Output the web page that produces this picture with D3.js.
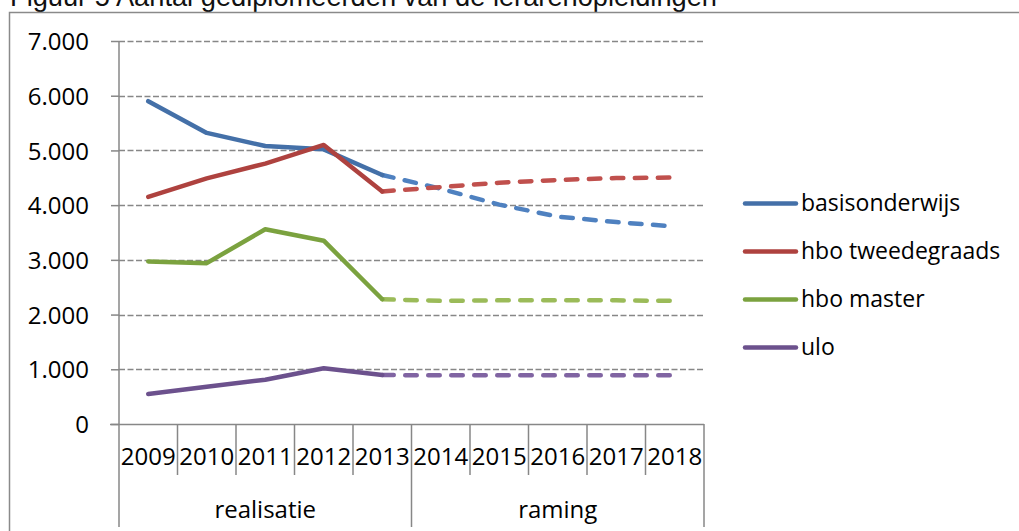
<!DOCTYPE html>
<html><head><meta charset="utf-8">
<script src="https://cdn.jsdelivr.net/npm/d3@7"></script>
<style>
html,body{margin:0;padding:0;background:#fff;}
svg{display:block;}
</style></head>
<body>
<svg id="chart" width="1019" height="531"></svg>
<script>
const title = "Figuur 5 Aantal gediplomeerden van de lerarenopleidingen";
const years = ["2009","2010","2011","2012","2013","2014","2015","2016","2017","2018"];
const periodOfYear = ["realisatie","realisatie","realisatie","realisatie","realisatie","raming","raming","raming","raming","raming"];
const periodLabels = ["realisatie","raming"];
const seriesNames = ["basisonderwijs","hbo tweedegraads","hbo master","ulo"];
const basisonderwijs  = [5900, 5320, 5080, 5020, 4550, 4300, 4010, 3790, 3690, 3610];
const hboTweedegraads = [4150, 4490, 4760, 5100, 4250, 4330, 4410, 4460, 4495, 4505];
const hboMaster       = [2970, 2940, 3560, 3350, 2280, 2250, 2260, 2260, 2260, 2250];
const ulo             = [550, 680, 810, 1020, 895, 890, 890, 890, 890, 890];
const yTicks = [0,1000,2000,3000,4000,5000,6000,7000];
const lastActualYear = "2013";

const solidColors  = ["#4470A8","#AE423F","#7BA23F","#6C518D"];
const dashedColors = ["#4F81C0","#C0504D","#9BBB59","#8064A2"];
const seriesValues = [basisonderwijs, hboTweedegraads, hboMaster, ulo];

const svg = d3.select("#chart");
const fontAxis = "'Open Sans', sans-serif";
const grid = "#878787";

// title + frame
svg.append("text").attr("x",10).attr("y",6).attr("font-family","'Liberation Sans', Arial, sans-serif")
  .attr("font-size",27).attr("fill","#111").attr("textLength",707).attr("lengthAdjust","spacingAndGlyphs").text(title);
svg.append("path").attr("d","M9.5,531 V12.5 H1019").attr("fill","none").attr("stroke","#8a8a8a").attr("stroke-width",1.5);

const x = d3.scaleBand().domain(years).range([119,704]).padding(0);
const y = d3.scaleLinear().domain([0,7000]).range([424,41]);
const cx = d => x(d) + x.bandwidth()/2;

const loc = d3.formatLocale({decimal:",", thousands:".", grouping:[3], currency:["€",""]});
const fmt = loc.format(",d");

// gridlines
svg.append("g").selectAll("line").data(yTicks.filter(t=>t>0)).join("line")
  .attr("x1",119).attr("x2",704).attr("y1",d=>Math.round(y(d))+0.5).attr("y2",d=>Math.round(y(d))+0.5)
  .attr("stroke",grid).attr("stroke-width",1.5).attr("stroke-dasharray","6,2.5");

// y axis
const yAxis = d3.axisLeft(y).tickValues(yTicks).tickFormat(fmt).tickSize(8).tickPadding(22);
const gy = svg.append("g").attr("transform","translate(119,0)").call(yAxis);
gy.select(".domain").attr("stroke",grid).attr("stroke-width",1.5).attr("d","M0,41V424");
gy.selectAll(".tick line").attr("stroke",grid).attr("stroke-width",1.5);
gy.selectAll(".tick text").attr("font-family",fontAxis).attr("font-size",24).attr("fill","#000").attr("dy","0.36em");

// x axis line
svg.append("line").attr("x1",110).attr("x2",704).attr("y1",424.5).attr("y2",424.5).attr("stroke",grid).attr("stroke-width",1.5);
// year separators
const bounds = years.map(d=>x(d)).concat([x(years[years.length-1])+x.bandwidth()]);
svg.append("g").selectAll("line").data(bounds).join("line")
  .attr("x1",d=>d).attr("x2",d=>d).attr("y1",424)
  .attr("y2",(d,i)=> (i===0 || i===bounds.length-1 || periodOfYear[i]!==periodOfYear[i-1]) ? 527 : 475)
  .attr("stroke",grid).attr("stroke-width",1.5);
// year labels
svg.append("g").selectAll("text").data(years).join("text")
  .attr("x",d=>cx(d)).attr("y",465).attr("text-anchor","middle")
  .attr("font-family",fontAxis).attr("font-size",24).attr("fill","#000").text(d=>d);
// period labels
svg.append("g").selectAll("text").data(periodLabels).join("text")
  .attr("x",p=>{const ys=years.filter((d,i)=>periodOfYear[i]===p); return (x(ys[0])+x(ys[ys.length-1])+x.bandwidth())/2;})
  .attr("y",518).attr("text-anchor","middle")
  .attr("font-family",fontAxis).attr("font-size",24).attr("fill","#000").text(d=>d);

// lines
const line = d3.line().x(d=>cx(d.year)).y(d=>y(d.v));
const splitIdx = years.indexOf(lastActualYear);
seriesValues.forEach((vals,k)=>{
  const pts = years.map((yr,i)=>({year:yr,v:vals[i]}));
  svg.append("path").datum(pts.slice(splitIdx))
    .attr("d",line).attr("fill","none").attr("stroke",dashedColors[k]).attr("stroke-width",4.5)
    .attr("stroke-linecap","round").attr("stroke-linejoin","round").attr("stroke-dasharray","11.5,11.5");
});
seriesValues.forEach((vals,k)=>{
  const pts = years.map((yr,i)=>({year:yr,v:vals[i]}));
  svg.append("path").datum(pts.slice(0,splitIdx+1))
    .attr("d",line).attr("fill","none").attr("stroke",solidColors[k]).attr("stroke-width",4.5)
    .attr("stroke-linecap","round").attr("stroke-linejoin","round");
});

// legend
const lg = svg.append("g");
seriesNames.forEach((n,k)=>{
  const ly = 203.5 + k*48;
  lg.append("line").attr("x1",745).attr("x2",796).attr("y1",ly).attr("y2",ly)
    .attr("stroke",solidColors[k]).attr("stroke-width",4.5).attr("stroke-linecap","round");
  lg.append("text").attr("x",801).attr("y",ly+7.5).attr("font-family",fontAxis).attr("font-size",23)
    .attr("fill","#000").text(n);
});
</script>
</body></html>
